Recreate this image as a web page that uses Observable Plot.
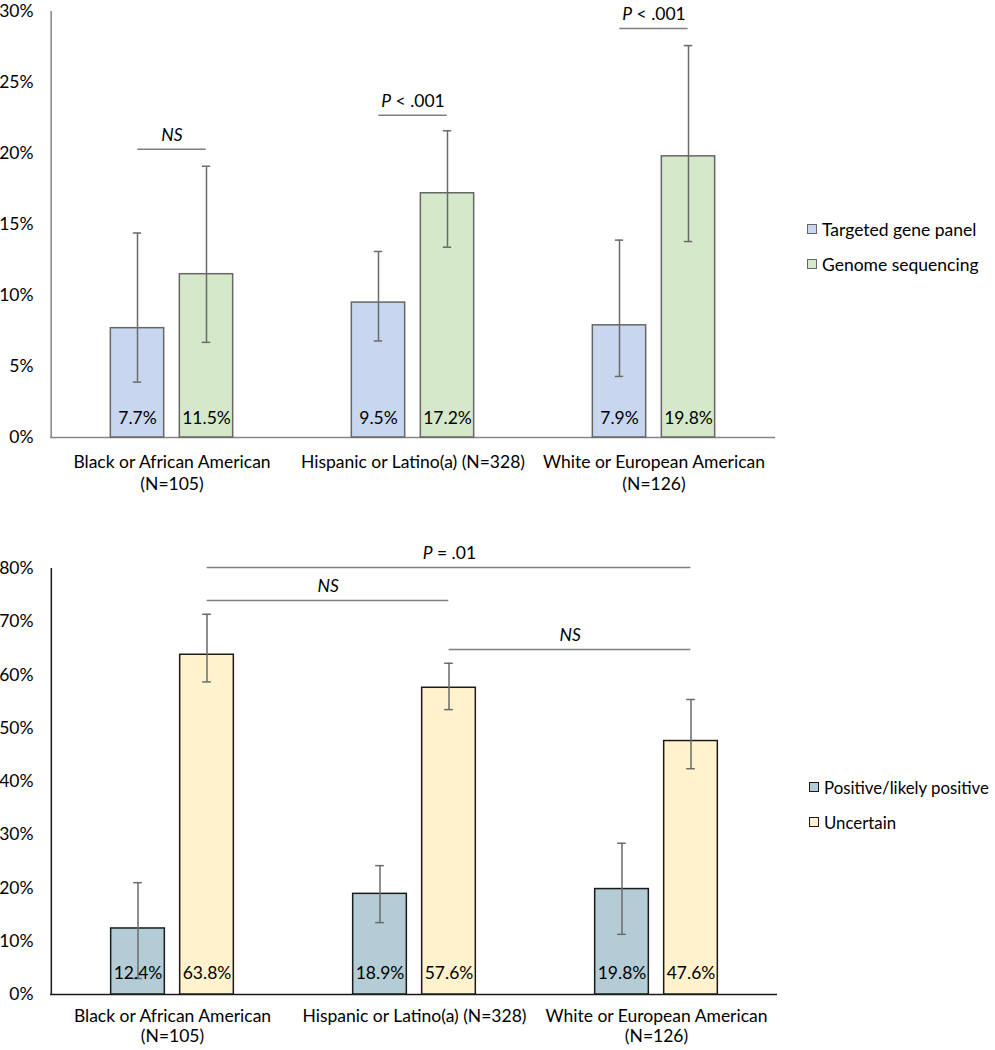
<!DOCTYPE html>
<html><head><meta charset="utf-8">
<script src="https://cdn.jsdelivr.net/npm/d3@7"></script>
<script src="https://cdn.jsdelivr.net/npm/@observablehq/plot@0.6"></script>
<style>
body{margin:0;background:#fff;font-family:Lato,"Noto Sans",sans-serif;}
#wrap{position:relative;width:995px;height:1050px;overflow:hidden;}
.panel{position:absolute;left:0;}
.legend{position:absolute;font-size:17.5px;color:#000;font-family:Lato,"Noto Sans",sans-serif;}
.legend .item{position:absolute;white-space:nowrap;display:flex;align-items:center;height:20px;}
.legend .sw{width:10px;height:10px;margin-right:5px;box-sizing:border-box;}
</style>
</head><body>
<div id="wrap">
  <div id="top" class="panel" style="top:0"></div>
  <div id="bottom" class="panel" style="top:510px"></div>
  <div id="legTop" class="legend"></div>
  <div id="legBottom" class="legend" style="font-size:16.8px"></div>
</div>
<script>
// ---------- data ----------
const groups = ["Black or African American (N=105)", "Hispanic or Latino(a) (N=328)", "White or European American (N=126)"];
const groupTickLabels = ["Black or African American\n(N=105)", "Hispanic or Latino(a) (N=328)", "White or European American\n(N=126)"];

// top panel
const topSeries = ["Targeted gene panel", "Genome sequencing"];
const tgpValues = [7.7, 9.5, 7.9];
const tgpLow = [3.9, 6.8, 4.3];
const tgpHigh = [14.4, 13.1, 13.9];
const gsValues = [11.5, 17.2, 19.8];
const gsLow = [6.7, 13.4, 13.8];
const gsHigh = [19.1, 21.6, 27.6];
const topTicks = [0, 5, 10, 15, 20, 25, 30];
const topSigLabels = ["NS", "P < .001", "P < .001"];
const topSigLevels = [20.3, 22.7, 28.8];

// bottom panel
const bottomSeries = ["Positive/likely positive", "Uncertain"];
const posValues = [12.4, 18.9, 19.8];
const posLow = [3.0, 13.5, 11.3];
const posHigh = [21.0, 24.2, 28.4];
const uncValues = [63.8, 57.6, 47.6];
const uncLow = [58.7, 53.5, 42.4];
const uncHigh = [71.4, 62.2, 55.4];
const bottomTicks = [0, 10, 20, 30, 40, 50, 60, 70, 80];
const bottomSigFrom = [0, 0, 1];
const bottomSigTo = [2, 1, 2];
const bottomSigLevels = [80.2, 74.0, 64.8];
const bottomSigLabels = ["P = .01", "NS", "NS"];

// ---------- helpers ----------
const FONT = "Lato, 'Noto Sans', sans-serif";
const FS = 17.5;
const HALF_SPACING = 34.5; // bar centre offset from group centre
const HALF_BAR = 27;
const CAP = 4.5;

function rowsOf(vals, lows, highs) {
  return groups.map((g, i) => ({group: g, value: vals[i], lo: lows[i], hi: highs[i]}));
}

function seriesMarks(rows, side, bw, fill, barStroke, errStroke) {
  const off = side * HALF_SPACING;
  const inL = bw / 2 + off - HALF_BAR, inR = bw / 2 - off - HALF_BAR;
  const cL = bw / 2 + off - CAP, cR = bw / 2 - off - CAP;
  return [
    Plot.barY(rows, {x: "group", y: "value", fill, stroke: barStroke, strokeWidth: 1.5, insetLeft: inL, insetRight: inR}),
    Plot.ruleX(rows, {x: "group", y1: "lo", y2: "hi", dx: off, stroke: errStroke, strokeWidth: 1.5}),
    Plot.tickY(rows, {x: "group", y: "hi", insetLeft: cL, insetRight: cR, stroke: errStroke, strokeWidth: 1.5}),
    Plot.tickY(rows, {x: "group", y: "lo", insetLeft: cL, insetRight: cR, stroke: errStroke, strokeWidth: 1.5}),
  ];
}

function labelMarks(rows, side, dy) {
  const off = side * HALF_SPACING;
  return Plot.text(rows, {x: "group", y: () => 0, dx: off, dy, text: d => d.value.toFixed(1) + "%", fontSize: FS, fill: "#000", lineAnchor: "middle"});
}

function italicP(svg) {
  svg.querySelectorAll("text").forEach(t => {
    if (t.childElementCount === 0 && /^P [<=]/.test(t.textContent)) {
      const rest = t.textContent.slice(1);
      t.textContent = "";
      const a = document.createElementNS("http://www.w3.org/2000/svg", "tspan");
      a.setAttribute("font-style", "italic");
      a.textContent = "P";
      const b = document.createElementNS("http://www.w3.org/2000/svg", "tspan");
      b.textContent = rest.replace(/^ /, "\u00a0");
      t.appendChild(a); t.appendChild(b);
    }
  });
}

// ---------- top chart ----------
{
  const width = 995, height = 510, mL = 50, mR = 220, mT = 11, mB = 73;
  const bw = (width - mL - mR) / groups.length;
  const tgp = rowsOf(tgpValues, tgpLow, tgpHigh);
  const gs = rowsOf(gsValues, gsLow, gsHigh);
  const sig = groups.map((g, i) => ({group: g, level: topSigLevels[i], label: topSigLabels[i]}));
  const axisCol = "#868686";
  const chart = Plot.plot({
    width, height, marginLeft: mL, marginRight: mR, marginTop: mT, marginBottom: mB,
    style: {fontFamily: FONT, fontSize: FS + "px", color: "#000", background: "#fff"},
    x: {type: "band", domain: groups, padding: 0, axis: null},
    y: {domain: [0, 30], ticks: topTicks, tickFormat: d => d + "%", tickSize: 0, tickPadding: 17, label: null},
    marks: [
      Plot.ruleY([0], {stroke: axisCol, strokeWidth: 1.5}),
      Plot.ruleX([groups[0]], {dx: -bw / 2, y1: () => 0, y2: () => 30, stroke: axisCol, strokeWidth: 1.5}),
      ...seriesMarks(tgp, -1, bw, "#C8D6EF", "#666666", "#6a6a6a"),
      ...seriesMarks(gs, 1, bw, "#D5E8CA", "#666666", "#6a6a6a"),
      labelMarks(tgp, -1, -19),
      labelMarks(gs, 1, -19),
      Plot.ruleY(sig, {y: "level", x1: "group", x2: "group", insetLeft: bw / 2 - HALF_SPACING, insetRight: bw / 2 - HALF_SPACING, stroke: "#7f7f7f", strokeWidth: 1.5}),
      Plot.text(sig.filter(d => d.label === "NS"), {x: "group", y: "level", dy: -14, text: "label", fontSize: FS, fontStyle: "italic", fill: "#000"}),
      Plot.text(sig.filter(d => d.label !== "NS"), {x: "group", y: "level", dy: -14, text: "label", fontSize: FS, fill: "#000"}),
      Plot.text(groups, {x: d => d, y: () => 0, dy: 14, lineAnchor: "top", lineHeight: 1.3, text: (d, i) => groupTickLabels[i], fontSize: FS, fill: "#000"})
    ]
  });
  italicP(chart);
  document.getElementById("top").appendChild(chart);
}

// ---------- bottom chart ----------
{
  const width = 995, height = 540, mL = 50, mR = 218, mT = 58, mB = 56;
  const bw = (width - mL - mR) / groups.length;
  const pos = rowsOf(posValues, posLow, posHigh);
  const unc = rowsOf(uncValues, uncLow, uncHigh);
  const sig = bottomSigLevels.map((lv, i) => ({from: groups[bottomSigFrom[i]], to: groups[bottomSigTo[i]], span: bottomSigTo[i] - bottomSigFrom[i], level: lv, label: bottomSigLabels[i]}));
  const axisCol = "#1a1a1a";
  const sigText = sig.map(d => Plot.text([d], {
    x: "from", y: "level", dx: d.span * bw / 2 + HALF_SPACING, dy: -14, text: "label", fontSize: FS,
    fontStyle: d.label === "NS" ? "italic" : "normal", fill: "#000"
  }));
  const chart = Plot.plot({
    width, height, marginLeft: mL, marginRight: mR, marginTop: mT, marginBottom: mB,
    style: {fontFamily: FONT, fontSize: FS + "px", color: "#000", background: "#fff"},
    x: {type: "band", domain: groups, padding: 0, axis: null},
    y: {domain: [0, 80], ticks: bottomTicks, tickFormat: d => d + "%", tickSize: 0, tickPadding: 17, label: null},
    marks: [
      Plot.ruleY([0], {stroke: axisCol, strokeWidth: 1.5}),
      Plot.ruleX([groups[0]], {dx: -bw / 2, y1: () => 0, y2: () => 80, stroke: axisCol, strokeWidth: 1.5}),
      ...seriesMarks(pos, -1, bw, "#B4CCD6", "#1a1a1a", "#6a6a6a"),
      ...seriesMarks(unc, 1, bw, "#FFF2CC", "#1a1a1a", "#6a6a6a"),
      labelMarks(pos, -1, -21),
      labelMarks(unc, 1, -21),
      Plot.ruleY(sig, {y: "level", x1: "from", x2: "to", insetLeft: bw / 2 + HALF_SPACING, insetRight: bw / 2 - HALF_SPACING, stroke: "#7f7f7f", strokeWidth: 1.5}),
      ...sigText,
      Plot.text(groups, {x: d => d, y: () => 0, dy: 13, lineAnchor: "top", lineHeight: 1.15, text: (d, i) => groupTickLabels[i], fontSize: FS, fill: "#000"})
    ]
  });
  italicP(chart);
  document.getElementById("bottom").appendChild(chart);
}

// ---------- legends ----------
function legend(el, names, fills, stroke, left, centers) {
  names.forEach((n, i) => {
    const it = document.createElement("div");
    it.className = "item";
    it.style.left = left + "px";
    it.style.top = (centers[i] - 10) + "px";
    const sw = document.createElement("span");
    sw.className = "sw";
    sw.style.background = fills[i];
    sw.style.border = "1px solid " + stroke;
    it.appendChild(sw);
    it.appendChild(document.createTextNode(n));
    el.appendChild(it);
  });
}
legend(document.getElementById("legTop"), topSeries, ["#C8D6EF", "#D5E8CA"], "#666", 807, [229, 264]);
legend(document.getElementById("legBottom"), bottomSeries, ["#B4CCD6", "#FFF2CC"], "#1a1a1a", 809, [787, 822]);
</script>
</body></html>
